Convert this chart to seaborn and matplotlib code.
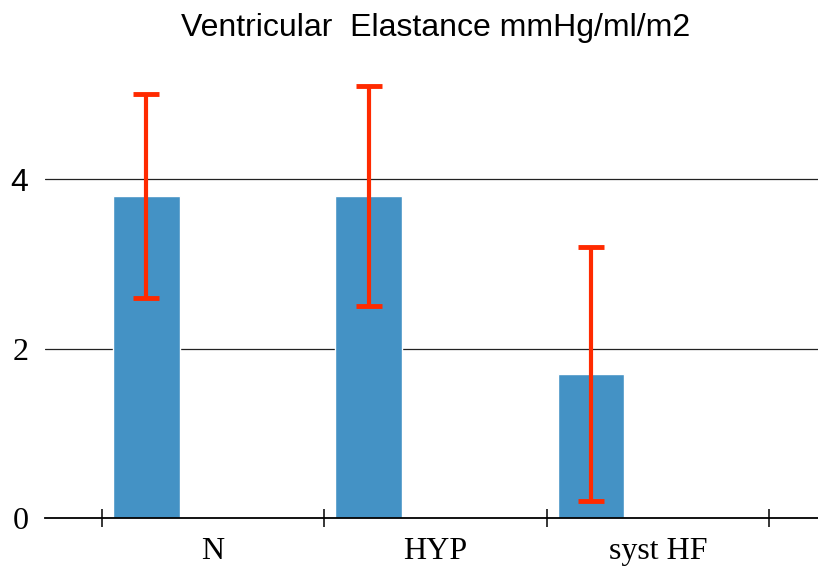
import matplotlib
matplotlib.use("Agg")
import matplotlib.pyplot as plt
import seaborn as sns
import numpy as np

categories = ["N", "HYP", "syst HF"]
values = [3.8, 3.8, 1.7]
err_low = [2.6, 2.5, 0.2]
err_high = [5.0, 5.1, 3.2]
yticks = [0, 2, 4]

sns.set_theme(style="white")

fig = plt.figure(figsize=(8.18, 5.72), dpi=100)
ax = fig.add_axes([45/818, 54/572, 773/818, 466/572])

idx = np.arange(len(categories))
xpos = idx - 0.3
sns.barplot(x=xpos, y=values, native_scale=True, width=0.3, color="#4492c5",
            saturation=1, ax=ax, errorbar=None, zorder=2)
vals = np.array(values)
yerr = np.vstack([vals - np.array(err_low), np.array(err_high) - vals])
ax.errorbar(xpos, vals, yerr=yerr, fmt="none", ecolor="#ff2a00", elinewidth=3,
            capsize=9.5, capthick=3.5, zorder=5)

ax.set_xlim(-0.755, 2.72)
ax.set_ylim(0, 5.5)

for s in ["top", "right", "left"]:
    ax.spines[s].set_visible(False)
ax.spines["bottom"].set_color("black")
ax.spines["bottom"].set_linewidth(1.3)

ax.set_xticks(idx)
ax.set_xticklabels(categories, fontfamily="Liberation Serif", fontsize=23, color="black")
ax.set_xticks(np.arange(-0.5, len(categories)), minor=True)
ax.tick_params(axis="x", which="major", length=0, pad=14)
ax.tick_params(axis="x", which="minor", length=13, direction="inout", width=1.1, color="black", bottom=True)

ax.set_yticks(yticks)
labels = ax.set_yticklabels([str(t) for t in yticks], fontsize=23, color="black")
for t, lab in zip(yticks, labels):
    lab.set_fontfamily("Liberation Sans" if t == 4 else "Liberation Serif")
ax.tick_params(axis="y", length=0, pad=12)
for t in yticks[1:]:
    ax.axhline(t, color="#222222", linewidth=0.9, zorder=0)

ax.set_xlabel("")
ax.set_ylabel("")
fig.suptitle("Ventricular  Elastance mmHg/ml/m2", x=436/818, y=1 - 28/572, va="center",
             fontfamily="Liberation Sans", fontsize=23, color="black")

fig.savefig("out.png", dpi=100)
